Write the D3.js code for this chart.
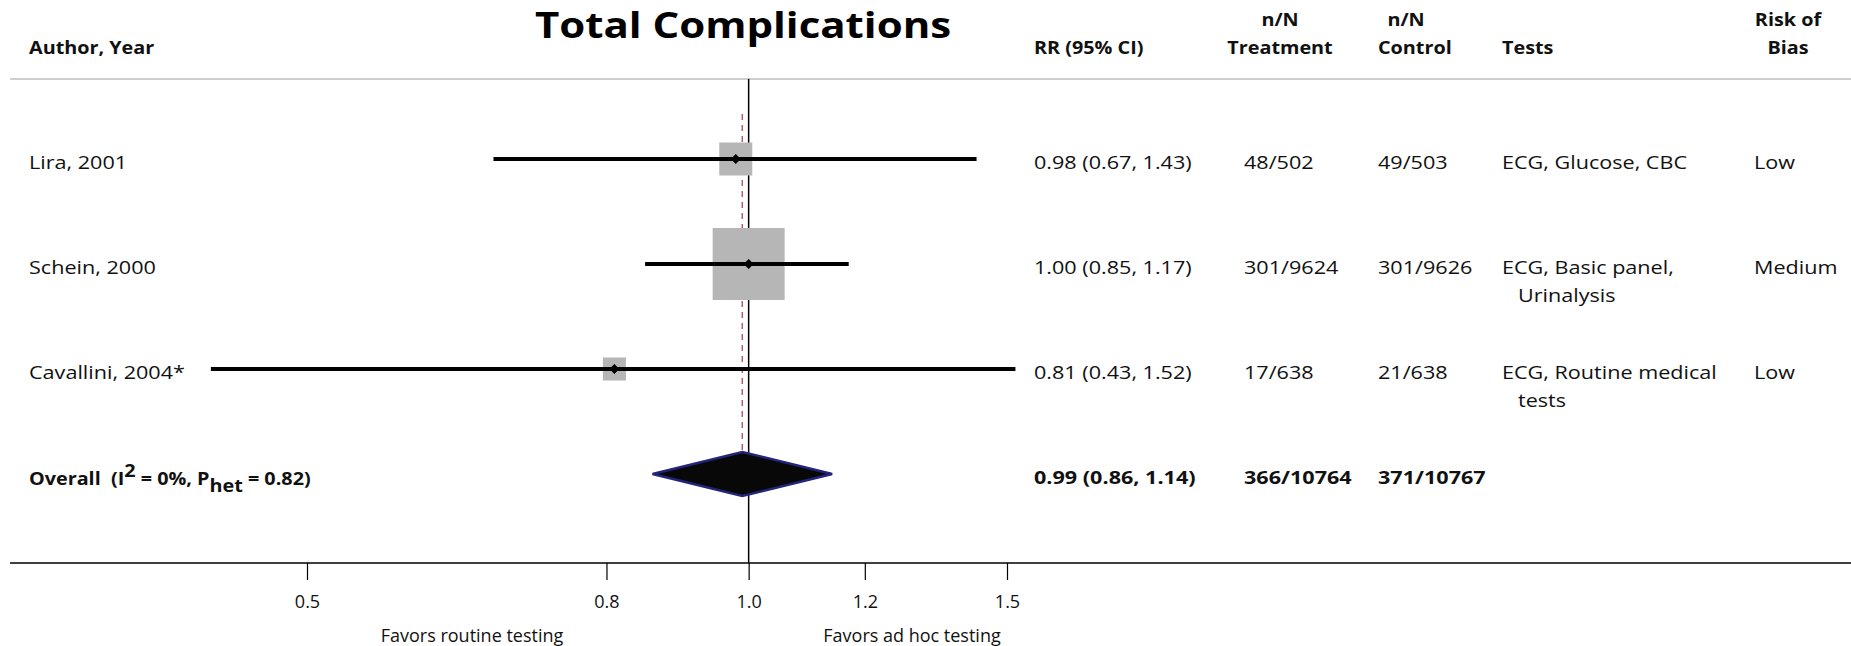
<!DOCTYPE html>
<html>
<head>
<meta charset="utf-8">
<script src="https://cdn.jsdelivr.net/npm/d3@7"></script>
<style>
  body { margin: 0; background: #fff; }
  text { font-family: "Open Sans", Lato, sans-serif; fill: #111; }
</style>
</head>
<body>
<script>
// study rows
var authors = ["Lira, 2001", "Schein, 2000", "Cavallini, 2004*"];
var rr = [0.98, 1.00, 0.81];
var lower = [0.67, 0.85, 0.43];
var upper = [1.43, 1.17, 1.52];
var weights = [16.0, 76.2, 7.8];
var rrText = ["0.98 (0.67, 1.43)", "1.00 (0.85, 1.17)", "0.81 (0.43, 1.52)"];
var treatment = ["48/502", "301/9624", "17/638"];
var control = ["49/503", "301/9626", "21/638"];
var tests = [["ECG, Glucose, CBC"], ["ECG, Basic panel,", "Urinalysis"], ["ECG, Routine medical", "tests"]];
var bias = ["Low", "Medium", "Low"];

// pooled
var overallRR = 0.99, overallLower = 0.86, overallUpper = 1.14;
var overallText = ["0.99 (0.86, 1.14)", "366/10764", "371/10767"];

var tickValues = [0.5, 0.8, 1.0, 1.2, 1.5];
var tickLabels = ["0.5", "0.8", "1.0", "1.2", "1.5"];

var W = 1851, H = 646;
var svg = d3.select("body").append("svg").attr("width", W).attr("height", H);

var x = d3.scaleLog().domain([0.5, 1.5]).range([307, 1007]);
var y = d3.scaleLinear().domain([0, 3]).range([159, 474]);
var box = d3.scaleSqrt().domain([0, 76.2]).range([0, 72]);
var axisY = 563;
var fs = "18px";

var col = {author: 29, rr: 1034, treat: 1244, ctrl: 1378, tests: 1502, bias: 1754};

// table text in the original is drawn a bit wide, so stretch it sideways
function put(g, px, py, str, anchor, sx) {
  return g.append("text")
    .attr("transform", "translate(" + px + "," + py + ") scale(" + (sx || 1.2) + ",1)")
    .attr("text-anchor", anchor || "start")
    .text(str);
}

// title
put(svg, 743, 38, "Total Complications", "middle")
   .style("font-size", "35px").style("font-weight", "bold").style("fill", "#000");

// header
var hdr = svg.append("g").style("font-size", fs).style("font-weight", "bold");
put(hdr, col.author, 54, "Author, Year", "start", 1.1);
put(hdr, col.rr, 54, "RR (95% CI)", "start", 1.1);
put(hdr, 1280, 26, "n/N", "middle", 1.1);
put(hdr, 1280, 54, "Treatment", "middle", 1.1);
put(hdr, 1406, 26, "n/N", "middle", 1.1);
put(hdr, col.ctrl, 54, "Control", "start", 1.1);
put(hdr, col.tests, 54, "Tests", "start", 1.1);
put(hdr, 1788, 26, "Risk of", "middle", 1.1);
put(hdr, 1788, 54, "Bias", "middle", 1.1);

svg.append("line").attr("x1", 10).attr("x2", W).attr("y1", 79).attr("y2", 79)
   .attr("stroke", "#cfcfcf").attr("stroke-width", 2);

// reference lines
svg.append("line").attr("x1", x(1)).attr("x2", x(1)).attr("y1", 79).attr("y2", axisY)
   .attr("stroke", "#000").attr("stroke-width", 1.5);
svg.append("line").attr("x1", x(overallRR)).attr("x2", x(overallRR)).attr("y1", 114).attr("y2", y(3) - 22)
   .attr("stroke", "#b5474f").attr("stroke-width", 1.3).attr("stroke-dasharray", "6,5");

// study marks
var idx = d3.range(authors.length);
var rows = svg.selectAll("g.row").data(idx).enter().append("g").attr("class", "row");

rows.append("rect")
    .attr("x", i => x(rr[i]) - box(weights[i]) / 2)
    .attr("y", i => y(i) - box(weights[i]) / 2)
    .attr("width", i => box(weights[i]))
    .attr("height", i => box(weights[i]))
    .attr("fill", "#b6b6b6");

rows.append("line")
    .attr("x1", i => x(lower[i])).attr("x2", i => x(upper[i]))
    .attr("y1", i => y(i)).attr("y2", i => y(i))
    .attr("stroke", "#000").attr("stroke-width", 4);

rows.append("path")
    .attr("d", i => {
      var cx = x(rr[i]), cy = y(i), s = 5;
      return "M" + (cx - s) + "," + cy + "L" + cx + "," + (cy - s) + "L" + (cx + s) + "," + cy + "L" + cx + "," + (cy + s) + "Z";
    })
    .attr("fill", "#000");

// study text
var txt = svg.append("g").style("font-size", fs);
idx.forEach(function(i) {
  var ty = y(i) + 10;
  put(txt, col.author, ty, authors[i]);
  put(txt, col.rr, ty, rrText[i]);
  put(txt, col.treat, ty, treatment[i]);
  put(txt, col.ctrl, ty, control[i]);
  put(txt, col.bias, ty, bias[i]);
  tests[i].forEach(function(t, j) {
    put(txt, col.tests + (j ? 16 : 0), ty + j * 28, t);
  });
});

// overall
var oy = y(3);
svg.append("path")
   .attr("d", "M" + x(overallLower) + "," + oy + "L" + x(overallRR) + "," + (oy - 22) +
              "L" + x(overallUpper) + "," + oy + "L" + x(overallRR) + "," + (oy + 22) + "Z")
   .attr("fill", "#080808").attr("stroke", "#24247a").attr("stroke-width", 2.5);

var ov = svg.append("g").style("font-size", fs).style("font-weight", "bold");
var lab = put(ov, col.author, oy + 11, null, "start", 1.1).style("white-space", "pre");
lab.append("tspan").text("Overall  (I");
lab.append("tspan").attr("dy", -8).text("2");
lab.append("tspan").attr("dy", 8).text(" = 0%, P");
lab.append("tspan").attr("dy", 7).text("het");
lab.append("tspan").attr("dy", -7).text(" = 0.82)");
put(ov, col.rr, oy + 10, overallText[0]);
put(ov, col.treat, oy + 10, overallText[1]);
put(ov, col.ctrl, oy + 10, overallText[2]);

// axis
svg.append("line").attr("x1", 10).attr("x2", W).attr("y1", axisY).attr("y2", axisY)
   .attr("stroke", "#000").attr("stroke-width", 1.5);
var axis = d3.axisBottom(x).tickValues(tickValues).tickSize(17)
             .tickFormat((d, i) => tickLabels[i]);
var ag = svg.append("g").attr("transform", "translate(0," + axisY + ")").call(axis);
ag.select(".domain").remove();
ag.selectAll(".tick line").attr("stroke", "#000").attr("stroke-width", 1.2);
ag.selectAll(".tick text").attr("dy", 0).attr("y", 45)
  .style("font-family", "'Open Sans', sans-serif").style("font-size", fs).attr("fill", "#111");

svg.append("text").attr("x", 472).attr("y", 642).attr("text-anchor", "middle")
   .style("font-size", fs).text("Favors routine testing");
svg.append("text").attr("x", 912).attr("y", 642).attr("text-anchor", "middle")
   .style("font-size", fs).text("Favors ad hoc testing");
</script>
</body>
</html>
